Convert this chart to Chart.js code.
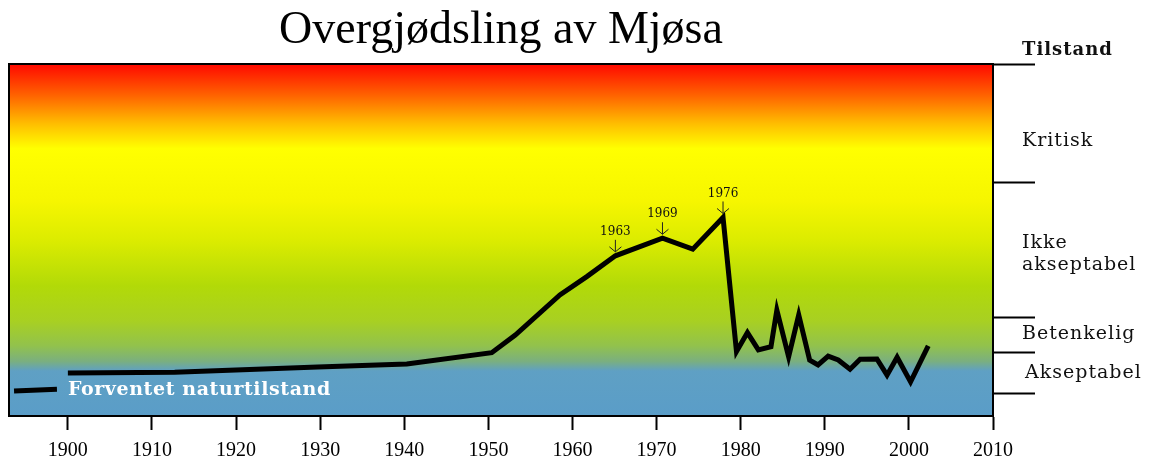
<!DOCTYPE html>
<html>
<head>
<meta charset="utf-8">
<script src="https://cdn.jsdelivr.net/npm/chart.js@4.4.1/dist/chart.umd.min.js"></script>
<style>
  html, body { margin: 0; padding: 0; background: #ffffff; }
  #wrap { width: 1155px; height: 460px; }
</style>
</head>
<body>
<div id="wrap"><canvas id="c" width="1155" height="460"></canvas></div>
<script>
// ---- data ----
const chartTitle = "Overgjødsling av Mjøsa";
const years = [1900, 1912.7, 1929.7, 1940.3, 1950.4, 1953.2, 1958.5, 1961.7, 1965.1, 1970.7, 1974.3, 1977.9,
  1979.5, 1980.8, 1982.1, 1983.6, 1984.3, 1985.7, 1986.9, 1988.2, 1989.2, 1990.4, 1991.6, 1993.0,
  1994.2, 1996.2, 1997.4, 1998.6, 2000.2, 2002.3];
const values = [12.2, 12.4, 13.9, 14.8, 18.0, 23.0, 34.4, 39.6, 45.5, 50.5, 47.4, 56.4,
  18.3, 23.7, 18.8, 19.7, 30.1, 16.8, 28.7, 15.9, 14.5, 17.0, 15.9, 13.3,
  16.1, 16.2, 11.6, 16.7, 9.7, 19.9];
const naturalLabel = "Forventet naturtilstand";
const naturalYears = [1893.6, 1898.7];
const naturalValues = [7.1, 7.6];
const markIndices = [8, 9, 11];
const markLabels = ["1963", "1969", "1976"];
const xTickValues = [1900, 1910, 1920, 1930, 1940, 1950, 1960, 1970, 1980, 1990, 2000, 2010];
const bandLimits = [100, 66.2, 28.1, 17.9, 6.5];
const bandHeader = "Tilstand";
const bandLabels = [["Kritisk"], ["Ikke", "akseptabel"], ["Betenkelig"], ["Akseptabel"]];
const bandLabelValues = [78, 46, 23.3, 12.2];

const mainPoints = years.map((x, i) => ({ x: x, y: values[i] }));
const naturalPoints = naturalYears.map((x, i) => ({ x: x, y: naturalValues[i] }));

const bgPlugin = {
  id: 'bgPlugin',
  beforeDraw(chart) {
    const ctx = chart.ctx, a = chart.chartArea;
    ctx.save();
    ctx.fillStyle = '#ffffff';
    ctx.fillRect(0, 0, chart.width, chart.height);
    const g = ctx.createLinearGradient(0, a.top, 0, a.bottom);
    g.addColorStop(0.0, '#ff0800');
    g.addColorStop(0.09, '#ff6400');
    g.addColorStop(0.17, '#ffbe00');
    g.addColorStop(0.24, '#ffff00');
    g.addColorStop(0.39, '#f6f600');
    g.addColorStop(0.50, '#dcec00');
    g.addColorStop(0.63, '#b2da08');
    g.addColorStop(0.73, '#a8d022');
    g.addColorStop(0.80, '#92c24c');
    g.addColorStop(0.845, '#7aaf80');
    g.addColorStop(0.872, '#5fa0c4');
    g.addColorStop(1.0, '#5a9dc8');
    ctx.fillStyle = g;
    ctx.fillRect(a.left, a.top, a.right - a.left, a.bottom - a.top);
    ctx.restore();
  },
  beforeDatasetsDraw(chart) {
    const ctx = chart.ctx, a = chart.chartArea;
    ctx.save();
    ctx.strokeStyle = '#000';
    ctx.lineWidth = 2;
    ctx.beginPath();
    ctx.moveTo(a.left, a.bottom);
    ctx.lineTo(a.left, a.top);
    ctx.lineTo(a.right, a.top);
    ctx.stroke();
    ctx.restore();
  },
  afterDatasetsDraw(chart) {
    const ctx = chart.ctx, a = chart.chartArea;
    const ys = chart.scales.y;
    ctx.save();
    // point annotations
    const meta = chart.getDatasetMeta(0);
    ctx.font = '12px "DejaVu Serif"';
    ctx.textAlign = 'center';
    ctx.textBaseline = 'middle';
    markIndices.forEach((idx, k) => {
      const p = meta.data[idx];
      ctx.fillStyle = '#111';
      ctx.fillText(markLabels[k], p.x, p.y - 24);
      ctx.strokeStyle = '#222';
      ctx.lineWidth = 1;
      ctx.beginPath();
      ctx.moveTo(p.x, p.y - 16);
      ctx.lineTo(p.x, p.y - 4);
      ctx.moveTo(p.x - 6, p.y - 9);
      ctx.lineTo(p.x, p.y - 4);
      ctx.lineTo(p.x + 6, p.y - 9);
      ctx.stroke();
    });
    // natural state label
    const nm = chart.getDatasetMeta(1);
    const last = nm.data[nm.data.length - 1];
    ctx.font = 'bold 19px "DejaVu Serif"';
    ctx.letterSpacing = '0.6px';
    ctx.textAlign = 'left';
    ctx.fillStyle = '#ffffff';
    ctx.fillText(naturalLabel, last.x + 11, last.y + 1);
    // band labels on right
    const lx = a.right + 29;
    ctx.fillStyle = '#111';
    ctx.letterSpacing = '1px';
    ctx.font = 'bold 18px "DejaVu Serif"';
    ctx.fillText(bandHeader, lx, a.top - 14);
    ctx.font = '19px "DejaVu Serif"';
    bandLabels.forEach((lines, i) => {
      const cy = ys.getPixelForValue(bandLabelValues[i]);
      const lh = 22;
      const y0 = cy - (lines.length - 1) * lh / 2;
      lines.forEach((t, j) => ctx.fillText(t, lx + (i === 3 ? 3 : 0), y0 + j * lh));
    });
    ctx.letterSpacing = '0px';
    ctx.restore();
  }
};

new Chart(document.getElementById('c'), {
  type: 'line',
  data: {
    datasets: [
      { label: 'Mjøsa', data: mainPoints, borderColor: '#000', borderWidth: 5, pointRadius: 0,
        tension: 0, borderJoinStyle: 'miter', fill: false, yAxisID: 'y' },
      { label: naturalLabel, data: naturalPoints, borderColor: '#000', borderWidth: 5, pointRadius: 0,
        tension: 0, fill: false, yAxisID: 'y' }
    ]
  },
  options: {
    responsive: false,
    animation: false,
    devicePixelRatio: 1,
    layout: { padding: { left: 9, right: 0, top: 0, bottom: 0 } },
    plugins: {
      legend: { display: false },
      tooltip: { enabled: false },
      title: {
        display: true, text: chartTitle, color: '#000', fullSize: false,
        font: { family: '"Liberation Serif"', size: 46, weight: 'normal', lineHeight: 1 },
        padding: { top: 8, bottom: 10 }
      }
    },
    scales: {
      x: {
        type: 'linear', min: 1893, max: 2010,
        afterBuildTicks: (s) => { s.ticks = xTickValues.map(v => ({ value: v })); },
        afterFit: (s) => { s.height = 44; },
        ticks: { callback: (v) => String(v), color: '#000', padding: 9, maxRotation: 0, autoSkip: false,
          font: { family: '"Liberation Serif"', size: 20 } },
        grid: { display: true, drawOnChartArea: false, drawTicks: true, tickLength: 14, tickColor: '#000', tickWidth: 2 },
        border: { display: true, color: '#000', width: 2 }
      },
      y: { type: 'linear', min: 0, max: 100, display: false },
      yr: {
        type: 'linear', position: 'right', min: 0, max: 100,
        afterBuildTicks: (s) => { s.ticks = bandLimits.map(v => ({ value: v })); },
        afterFit: (s) => { s.width = 162; },
        ticks: { callback: () => '', display: true },
        grid: { display: true, drawOnChartArea: false, drawTicks: true, tickLength: 42, tickColor: '#000', tickWidth: 2 },
        border: { display: true, color: '#000', width: 2 }
      }
    }
  },
  plugins: [bgPlugin]
});
</script>
</body>
</html>
